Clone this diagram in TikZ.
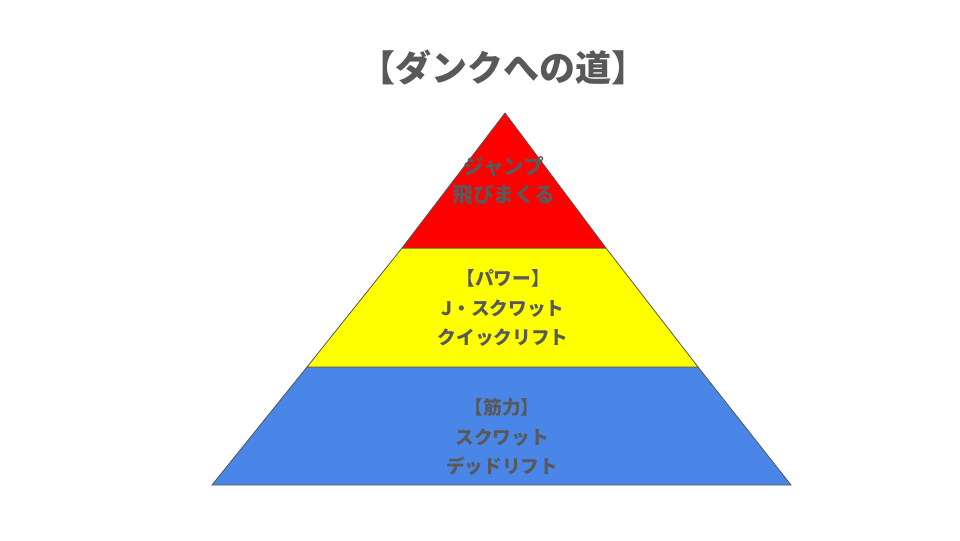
\documentclass[tikz,border=0pt]{standalone}
\usepackage{fontspec}
\setmainfont{Noto Sans CJK JP}
\usetikzlibrary{positioning}
\definecolor{layerred}{RGB}{255,0,0}
\definecolor{layeryellow}{RGB}{255,255,0}
\definecolor{layerblue}{RGB}{74,134,232}
\definecolor{textgray}{RGB}{89,89,89}
\definecolor{edgegray}{RGB}{85,85,85}

\begin{document}
\begin{tikzpicture}[x=0.75pt, y=-0.75pt,
    layer/.style={draw=edgegray, line width=0.6pt},
    label/.style={text=textgray, align=center, font=\fontsize{14}{22}\selectfont\bfseries}]
  \useasboundingbox (0,0) rectangle (960,540);
  % pyramid, bottom to top
  \draw[layer, fill=layerblue] (307,367) -- (698,367) -- (791,485) -- (212,485) -- cycle;
  \draw[layer, fill=layeryellow] (402,248) -- (606,248) -- (698,367) -- (307,367) -- cycle;
  \draw[layer, fill=layerred] (505,113) -- (606,248) -- (402,248) -- cycle;
  \node[label, font=\fontsize{27}{30}\selectfont\bfseries] (title) at (503,68) {【ダンクへの道】};
  \node[label, font=\fontsize{15.5}{21}\selectfont\bfseries] (jump) at (504,181) {ジャンプ\\飛びまくる};
  \node[label] (power) at (503,308) {【パワー】\\J・スクワット\\クイックリフト};
  \node[label] (strength) at (502,437) {【筋力】\\スクワット\\デッドリフト};
\end{tikzpicture}
\end{document}
